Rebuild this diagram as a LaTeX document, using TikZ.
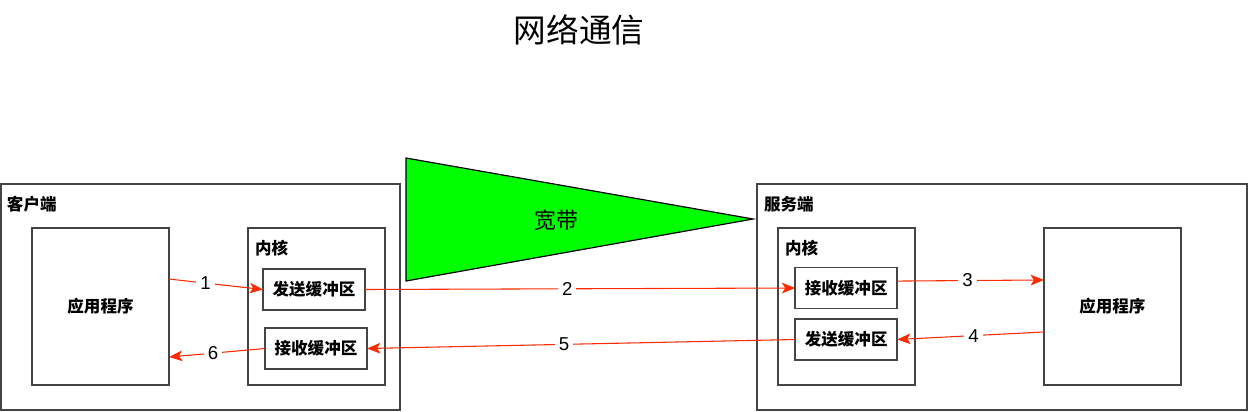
\documentclass[tikz,border=0pt]{standalone}
\usepackage{fontspec}
\setmainfont{Noto Sans CJK SC}
\newfontfamily\numfont{Liberation Sans}
\usetikzlibrary{arrows.meta}

\definecolor{boxgray}{HTML}{444444}
\definecolor{linkred}{HTML}{FF2A00}
\definecolor{bandgreen}{HTML}{00FF00}

\begin{document}
\begin{tikzpicture}[x=0.75pt, y=-0.75pt,
  every node/.style = {inner sep=0pt, outer sep=0pt},
  box/.style = {draw=boxgray, line width=1.2pt, rectangle},
  bigbox/.style = {box, minimum width=102.75pt, minimum height=117.75pt,
    font=\bfseries\fontsize{12.4}{14}\selectfont},
  bufbox/.style = {box, minimum width=76.5pt, minimum height=31pt,
    font=\bfseries\fontsize{12.4}{14}\selectfont},
  tag/.style = {anchor=west, font=\bfseries\fontsize{12.4}{14}\selectfont},
  link/.style = {draw=linkred, line width=0.8pt,
    -{Stealth[length=10pt, width=8pt, inset=2.5pt]}},
  num/.style = {fill=white, inner sep=3pt, font=\numfont\fontsize{14}{16}\selectfont}]
  \useasboundingbox (0,0) rectangle (1248,411);

  % title
  \node (title) at (579,30) {\fontsize{24.5}{28}\selectfont 网络通信};

  % bandwidth
  \filldraw[fill=bandgreen, draw=black, line width=0.9pt]
    (406,158) -- (753,219) -- (406,281) -- cycle;
  \node (band) at (556,220) {\fontsize{16.5}{19}\selectfont 宽带};

  % client side
  \node[box, minimum width=299.25pt, minimum height=169.5pt] (cli) at (200.5,297) {};
  \node[tag] (clitag) at (7,204) {客户端};
  \node[bigbox] (cliapp) at (100.5,306.5) {应用程序};
  \node[bigbox] (clik) at (316.5,306.5) {};
  \node[tag] (cliktag) at (255,248) {内核};
  \node[bufbox] (clisend) at (314,289.5) {发送缓冲区};
  \node[bufbox] (clirecv) at (316,348.5) {接收缓冲区};

  % server side
  \node[box, minimum width=367.5pt, minimum height=169.5pt] (srv) at (1002,297) {};
  \node[tag] (srvtag) at (764,204) {服务端};
  \node[bigbox] (srvk) at (846.5,306.5) {};
  \node[tag] (srvktag) at (785,248) {内核};
  \node[bufbox] (srvrecv) at (846.2,288) {接收缓冲区};
  \node[bufbox] (srvsend) at (846.2,339.5) {发送缓冲区};
  \node[bigbox] (srvapp) at (1112.4,306.5) {应用程序};

  % data flow
  \draw[link] ([yshift=20.6pt]cliapp.east) -- node[num, pos=0.39] {1} (clisend.west);
  \draw[link] (clisend.east) -- node[num, pos=0.47] {2} (srvrecv.west);
  \draw[link] ([yshift=5.2pt]srvrecv.east) -- node[num, pos=0.48] {3} ([yshift=19.9pt]srvapp.west);
  \draw[link] ([yshift=-19.1pt]srvapp.west) -- node[num, pos=0.48] {4} (srvsend.east);
  \draw[link] (srvsend.west) -- node[num, pos=0.54] {5} (clirecv.east);
  \draw[link] (clirecv.west) -- node[num, pos=0.54] {6} ([yshift=-37.9pt]cliapp.east);
\end{tikzpicture}
\end{document}
